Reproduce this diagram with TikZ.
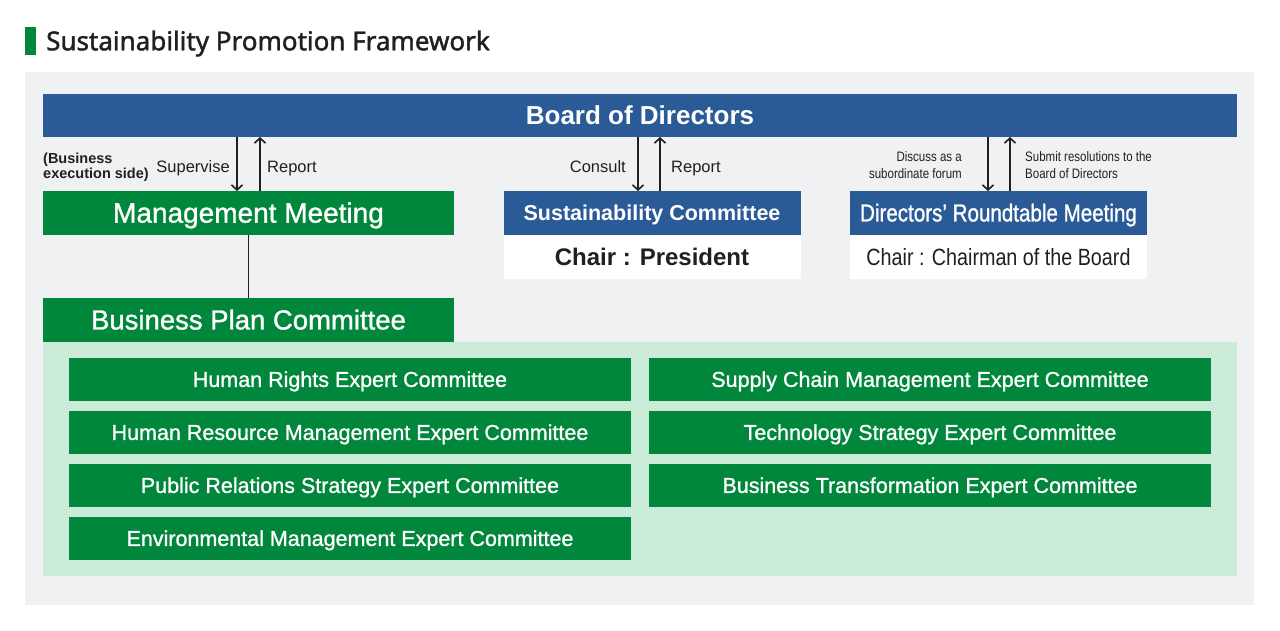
\documentclass[tikz,border=0pt]{standalone}
\usepackage{fontspec}
\setmainfont{Liberation Sans}
\newfontfamily\titlefont[FakeBold=1.6]{Noto Sans}
\newfontfamily\medfont[FakeBold=1.1]{Liberation Sans}
\newfontfamily\condfont[FakeStretch=0.84]{Liberation Sans}
\newfontfamily\condmed[FakeStretch=0.84,FakeBold=1.1]{Liberation Sans}
\newcommand\capc[1]{\raisebox{0pt}[\fontcharht\font`H][0pt]{#1}}
\usetikzlibrary{arrows.meta,positioning,calc}
\definecolor{bdblue}{HTML}{2A5B96}
\definecolor{bdgreen}{HTML}{00873C}
\definecolor{lightgreen}{HTML}{CBEBD9}
\definecolor{panelgray}{HTML}{EFF1F3}
\definecolor{ink}{HTML}{231F20}
\tikzset{
  box/.style={inner sep=0pt, outer sep=0pt, align=center, text=white},
  bluebox/.style={box, fill=bdblue},
  greenbox/.style={box, fill=bdgreen},
  whitebox/.style={box, fill=white, text=ink},
  expert/.style={greenbox, minimum width=562pt, minimum height=43pt, font=\medfont\fontsize{21.5}{24}\selectfont},
  arr/.style={line width=1.8pt, draw=ink, -{Straight Barb[length=5pt,width=11pt,line width=1.6pt]}},
  lbl/.style={inner sep=0pt, text=ink, font=\fontsize{16.5}{18}\selectfont},
  smalllbl/.style={inner sep=0pt, text=ink, font=\condfont\fontsize{13.7}{16.5}\selectfont}
}
\begin{document}
\begin{tikzpicture}[x=1pt,y=-1pt]
\useasboundingbox (0,0) rectangle (1280,630);
\fill[white] (0,0) rectangle (1280,630);
% title
\fill[bdgreen] (25,27) rectangle (36,55);
\node[anchor=west, inner sep=0pt, text=ink, font=\titlefont\fontsize{26}{28}\selectfont] (title) at (46,41) {\capc{Sustainability Promotion Framework}};
% gray panel
\node[fill=panelgray, inner sep=0pt, minimum width=1229pt, minimum height=533pt, anchor=north west] (panel) at (25,72) {};
% board
\node[bluebox, minimum width=1194pt, minimum height=43pt, font=\bfseries\fontsize{26}{28}\selectfont] (board) at (640,115.5) {\capc{Board of Directors}};
% management meeting
\node[greenbox, minimum width=411pt, minimum height=44pt, font=\medfont\fontsize{28}{30}\selectfont] (mm) at (248.5,213) {\capc{Management Meeting}};
% sustainability committee
\node[bluebox, minimum width=297pt, minimum height=44pt, font=\bfseries\fontsize{21.5}{24}\selectfont] (sc) at (652,213) {\capc{Sustainability Committee}};
\node[whitebox, minimum width=297pt, minimum height=44pt, font=\bfseries\fontsize{24}{26}\selectfont, below=0pt of sc] (scchair) {\capc{Chair : President}};
% directors roundtable
\node[bluebox, minimum width=297pt, minimum height=44pt, font=\condmed\fontsize{24.5}{26}\selectfont] (dr) at (998.5,213) {\capc{Directors’ Roundtable Meeting}};
\node[whitebox, minimum width=297pt, minimum height=44pt, font=\condfont\fontsize{23.5}{26}\selectfont, below=0pt of dr] (drchair) {\capc{Chair : Chairman of the Board}};
% business plan committee + panel
\node[fill=lightgreen, inner sep=0pt, minimum width=1194pt, minimum height=234pt, anchor=north west] (bppanel) at (43,342) {};
\node[greenbox, minimum width=411pt, minimum height=44pt, font=\medfont\fontsize{27.5}{30}\selectfont] (bpc) at (248.5,320) {\capc{Business Plan Committee}};
% experts
\node[expert] (e1) at (350,379.5) {\capc{Human Rights Expert Committee}};
\node[expert] (e2) at (350,432.5) {\capc{Human Resource Management Expert Committee}};
\node[expert] (e3) at (350,485.5) {\capc{Public Relations Strategy Expert Committee}};
\node[expert] (e4) at (350,538.5) {\capc{Environmental Management Expert Committee}};
\node[expert] (e5) at (930,379.5) {\capc{Supply Chain Management Expert Committee}};
\node[expert] (e6) at (930,432.5) {\capc{Technology Strategy Expert Committee}};
\node[expert] (e7) at (930,485.5) {\capc{Business Transformation Expert Committee}};
% connectors
\draw[arr] ([xshift=-11.5pt]mm.north |- board.south) -- ([xshift=-11.5pt]mm.north);
\draw[arr] ([xshift=11.5pt]mm.north) -- ([xshift=11.5pt]mm.north |- board.south);
\draw[arr] ([xshift=-14pt]sc.north |- board.south) -- ([xshift=-14pt]sc.north);
\draw[arr] ([xshift=8pt]sc.north) -- ([xshift=8pt]sc.north |- board.south);
\draw[arr] ([xshift=-10.5pt]dr.north |- board.south) -- ([xshift=-10.5pt]dr.north);
\draw[arr] ([xshift=11.5pt]dr.north) -- ([xshift=11.5pt]dr.north |- board.south);
\draw[line width=1.5pt, draw=ink] (mm.south) -- (bpc.north);
% labels
\node[anchor=north west, inner sep=0pt, text=ink, align=left, font=\bfseries\fontsize{14.5}{15}\selectfont] (bes) at (43,153) {(Business\\execution side)};
\node[lbl, anchor=east] (sup) at (230,167) {\capc{Supervise}};
\node[lbl, anchor=west] (rep1) at (267,167) {\capc{Report}};
\node[lbl, anchor=east] (con) at (626,167) {\capc{Consult}};
\node[lbl, anchor=west] (rep2) at (671,167) {\capc{Report}};
\node[smalllbl, anchor=east, align=right] (disc) at (962,165) {Discuss as a\\subordinate forum};
\node[smalllbl, anchor=west, align=left] (subm) at (1025,165) {Submit resolutions to the\\Board of Directors};
\end{tikzpicture}
\end{document}
